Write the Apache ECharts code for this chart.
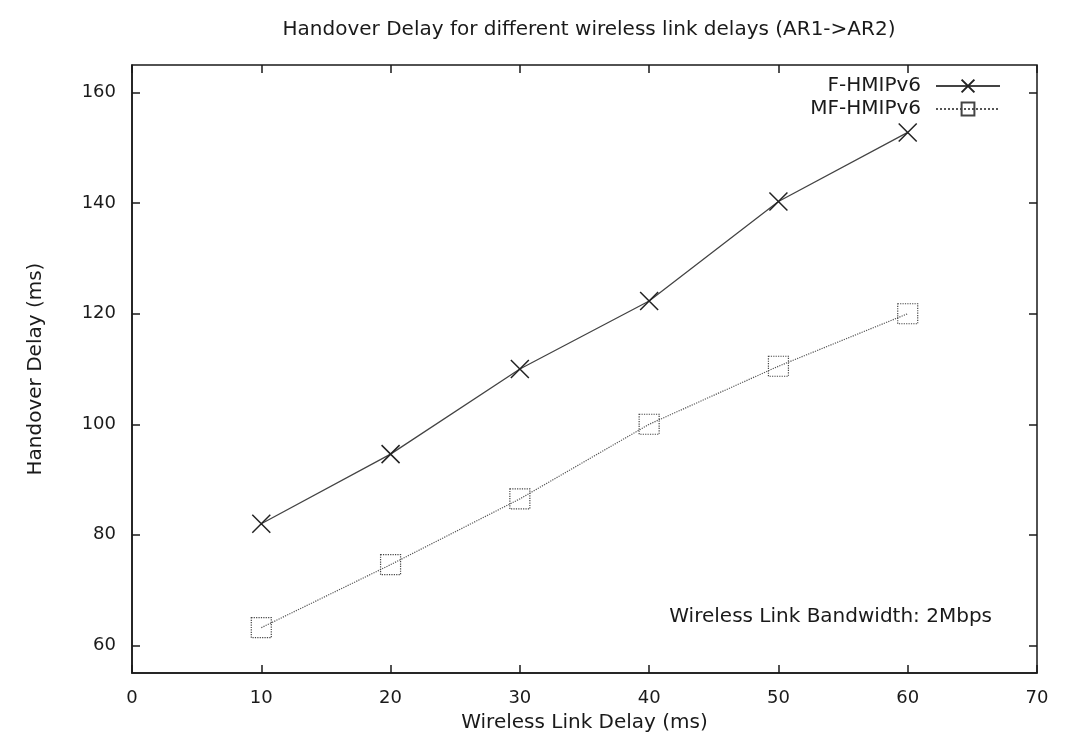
<!DOCTYPE html>
<html>
<head>
<meta charset="utf-8">
<script src="https://cdn.jsdelivr.net/npm/echarts@6/dist/echarts.min.js"></script>
<style>
  html, body { margin: 0; padding: 0; background: #fff; }
  #chart { width: 1072px; height: 749px; }
</style>
</head>
<body>
<div id="chart"></div>
<script>
// wireless link delay (ms)
var linkDelay = [10, 20, 30, 40, 50, 60];
// handover delay (ms)
var fHmip = [82, 94.6, 110, 122.3, 140.3, 152.8];
var mfHmip = [63.2, 74.6, 86.5, 100, 110.5, 120];
var yTicks = [60, 80, 100, 120, 140, 160];

var chart = echarts.init(document.getElementById('chart'));
var font = 'DejaVu Sans, Liberation Sans, sans-serif';
var ink = '#1a1a1a';

function pairs(xs, ys) {
  var out = [];
  for (var i = 0; i < xs.length; i++) out.push([xs[i], ys[i]]);
  return out;
}

chart.setOption({
  animation: false,
  textStyle: { fontFamily: font },
  title: {
    text: 'Handover Delay for different wireless link delays (AR1->AR2)',
    left: 584,
    textAlign: 'center',
    top: 15,
    textStyle: { fontSize: 20, fontWeight: 'normal', color: ink, fontFamily: font }
  },
  legend: {
    right: 66,
    top: 71,
    orient: 'vertical',
    align: 'right',
    itemWidth: 64,
    itemHeight: 16,
    itemGap: 3,
    textStyle: { fontSize: 20, color: ink, fontFamily: font, padding: [0, 10, 0, 0] },
    data: ['F-HMIPv6', 'MF-HMIPv6']
  },
  grid: {
    left: 132, right: 35, top: 65, bottom: 76,
    show: true, borderColor: ink, borderWidth: 1.5, backgroundColor: 'transparent'
  },
  xAxis: [{
    type: 'value', gridIndex: 0, position: 'bottom', min: 0, max: 70, interval: 10,
    name: 'Wireless Link Delay (ms)', nameLocation: 'middle', nameGap: 40,
    nameTextStyle: { fontSize: 20, color: ink, fontFamily: font },
    axisLine: { show: true, onZero: false, lineStyle: { color: ink, width: 1.5 } },
    axisTick: { show: true, inside: true, length: 8, lineStyle: { color: ink, width: 1.5 } },
    axisLabel: { fontSize: 18, color: ink, margin: 16, fontFamily: font },
    splitLine: { show: false }
  }, {
    type: 'value', gridIndex: 0, position: 'top', min: 0, max: 70, interval: 10,
    axisLine: { show: false, onZero: false },
    axisTick: { show: true, inside: true, length: 8, lineStyle: { color: ink, width: 1.5 } },
    axisLabel: { show: false },
    splitLine: { show: false }
  }],
  yAxis: [{
    type: 'value', gridIndex: 0, position: 'left', min: 55, max: 165,
    name: 'Handover Delay (ms)', nameLocation: 'middle', nameGap: 86,
    nameTextStyle: { fontSize: 20, color: ink, fontFamily: font },
    axisLine: { show: true, onZero: false, lineStyle: { color: ink, width: 1.5 } },
    axisTick: { show: true, inside: true, length: 8, customValues: yTicks, lineStyle: { color: ink, width: 1.5 } },
    axisLabel: { fontSize: 18, color: ink, margin: 16, fontFamily: font, customValues: yTicks },
    splitLine: { show: false }
  }, {
    type: 'value', gridIndex: 0, position: 'right', min: 55, max: 165,
    axisLine: { show: false, onZero: false },
    axisTick: { show: true, inside: true, length: 8, customValues: yTicks, lineStyle: { color: ink, width: 1.5 } },
    axisLabel: { show: false, customValues: yTicks },
    splitLine: { show: false }
  }],
  graphic: [{
    type: 'text',
    x: 992, y: 617,
    style: {
      text: 'Wireless Link Bandwidth: 2Mbps',
      align: 'right', verticalAlign: 'middle',
      font: '20px ' + font, fill: ink
    }
  }],
  series: [{
    name: 'F-HMIPv6',
    type: 'line',
    xAxisIndex: 0, yAxisIndex: 0,
    data: pairs(linkDelay, fHmip),
    symbol: 'path://M0,0L10,10M10,0L0,10',
    symbolSize: 18,
    itemStyle: { color: 'transparent', borderColor: '#222', borderWidth: 1.5 },
    lineStyle: { color: '#444', width: 1.3 }
  }, {
    name: 'MF-HMIPv6',
    type: 'line',
    xAxisIndex: 0, yAxisIndex: 0,
    data: pairs(linkDelay, mfHmip),
    symbol: 'rect',
    symbolSize: 20,
    itemStyle: { color: 'transparent', borderColor: '#444', borderWidth: 1.2, borderType: 'dotted' },
    lineStyle: { color: '#555', width: 1.2, type: 'dotted' }
  }]
});
</script>
</body>
</html>
